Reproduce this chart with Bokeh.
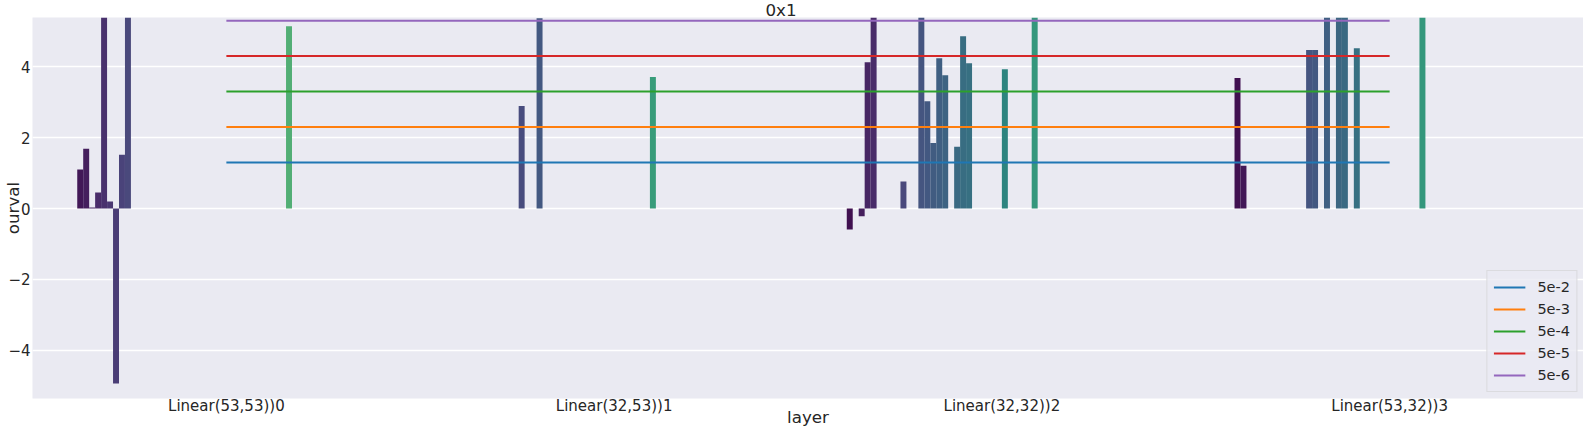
import math
import colorsys
from bokeh.plotting import figure
from bokeh.models import ColumnDataSource, FixedTicker, Legend, LegendItem, Range1d
from bokeh.palettes import Viridis256
from bokeh.embed import file_html
from bokeh.resources import INLINE

# ---------------- data ----------------
layers = ["Linear(53,53))0", "Linear(32,53))1", "Linear(32,32))2", "Linear(53,32))3"]
n_hue = 52  # number of hue levels (neurons) in the dodge

bar_layer = [0, 0, 0, 0, 0, 0, 0, 0, 0, 0,
             1, 1, 1,
             2, 2, 2, 2, 2, 2, 2, 2, 2, 2, 2, 2, 2, 2, 2,
             3, 3, 3, 3, 3, 3, 3, 3, 3]
bar_neuron = [1, 2, 3, 4, 5, 6, 7, 8, 9, 36,
              10, 13, 32,
              0, 2, 3, 4, 9, 12, 13, 14, 15, 16, 18, 19, 20, 26, 31,
              0, 1, 12, 13, 15, 17, 18, 20, 31]
bar_value = [1.10, 1.69, 0.03, 0.45, 6.2, 0.20, -4.94, 1.52, 6.4, 5.14,
             2.89, 5.37, 3.71,
             -0.59, -0.22, 4.13, 6.0, 0.76, 6.3, 3.03, 1.85, 4.24, 3.76, 1.74, 4.86, 4.10, 3.93, 6.5,
             3.68, 1.21, 4.47, 4.47, 6.1, 6.6, 6.6, 4.52, 6.8]

thr_labels = ["5e-2", "5e-3", "5e-4", "5e-5", "5e-6"]
thr_pvalues = [5e-2, 5e-3, 5e-4, 5e-5, 5e-6]
thr_colors = ["#1f77b4", "#ff7f0e", "#2ca02c", "#d62728", "#9467bd"]

title_text = "0x1"
x_label = "layer"
y_label = "ourval"

# ---------------- helpers ----------------
def hue_color(i, n=n_hue, sat=0.75):
    x = (i + 1) / (n + 1)
    h = Viridis256[min(int(x * 256), 255)]
    r, g, b = [int(h[k:k + 2], 16) / 255 for k in (1, 3, 5)]
    hh, l, s = colorsys.rgb_to_hls(r, g, b)
    r, g, b = colorsys.hls_to_rgb(hh, l, s * sat)
    return "#%02x%02x%02x" % (round(r * 255), round(g * 255), round(b * 255))

w = 0.8 / n_hue
xs = [c - 0.4 + w * (i + 0.5) for c, i in zip(bar_layer, bar_neuron)]
cols = [hue_color(i) for i in bar_neuron]
src = ColumnDataSource(dict(x=xs, top=bar_value, color=cols))

FONT = "DejaVu Sans"
TXT = "#262626"

p = figure(width=1583, height=429, output_backend="svg", toolbar_location=None,
           x_range=Range1d(-0.5, 3.5), y_range=Range1d(-5.36, 5.39),
           min_border_left=0, min_border_right=0, min_border_top=0, min_border_bottom=0)
p.background_fill_color = "#eaeaf2"
p.border_fill_color = "white"
p.outline_line_color = None

p.vbar(x="x", top="top", bottom=0, width=w, color="color", source=src, line_color=None)

items = []
for lab, pv, c in zip(thr_labels, thr_pvalues, thr_colors):
    yv = -math.log10(pv)
    r = p.line(x=[0, 3], y=[yv, yv], line_color=c, line_width=2)
    items.append(LegendItem(label=lab, renderers=[r]))

# axes
p.xaxis.ticker = FixedTicker(ticks=[0, 1, 2, 3])
p.xaxis.major_label_overrides = {i: lab for i, lab in enumerate(layers)}
p.yaxis.ticker = FixedTicker(ticks=[-4, -2, 0, 2, 4])
p.yaxis.major_label_overrides = {-4: "\u22124", -2: "\u22122", 0: "0", 2: "2", 4: "4"}
p.xaxis.axis_label = x_label
p.yaxis.axis_label = y_label
for ax in (p.xaxis[0], p.yaxis[0]):
    ax.axis_line_color = None
    ax.major_tick_line_color = None
    ax.minor_tick_line_color = None
    ax.major_tick_out = 0
    ax.major_tick_in = 0
    ax.minor_tick_out = 0
    ax.minor_tick_in = 0
    ax.major_label_text_font = FONT
    ax.major_label_text_font_size = "15px"
    ax.major_label_text_color = TXT
    ax.axis_label_text_font = FONT
    ax.axis_label_text_font_size = "16.7px"
    ax.axis_label_text_font_style = "normal"
    ax.axis_label_text_color = TXT
    ax.axis_label_text_line_height = 0.8
p.xaxis.major_label_standoff = -2
p.xaxis.axis_label_standoff = -11
p.yaxis.major_label_standoff = 2
p.yaxis.axis_label_standoff = -18

p.xgrid.grid_line_color = None
p.ygrid.grid_line_color = "white"
p.ygrid.grid_line_width = 1.4

p.title.text = title_text
p.title.text_font = FONT
p.title.text_font_size = "16.7px"
p.title.text_font_style = "normal"
p.title.text_color = TXT
p.title.align = "left"
p.title.offset = 733
p.title.standoff = -5

legend = Legend(items=items, location="bottom_right")
legend.background_fill_color = "#eaeaf2"
legend.background_fill_alpha = 0.8
legend.border_line_color = "#cccccc"
legend.label_text_font = FONT
legend.label_text_font_size = "14.5px"
legend.label_text_color = TXT
legend.glyph_width = 32
legend.glyph_height = 20
legend.label_height = 20
legend.spacing = 2
legend.padding = 6
legend.margin = 6
legend.label_standoff = 12
p.add_layout(legend)

open("out.html", "w").write(file_html(p, INLINE))
